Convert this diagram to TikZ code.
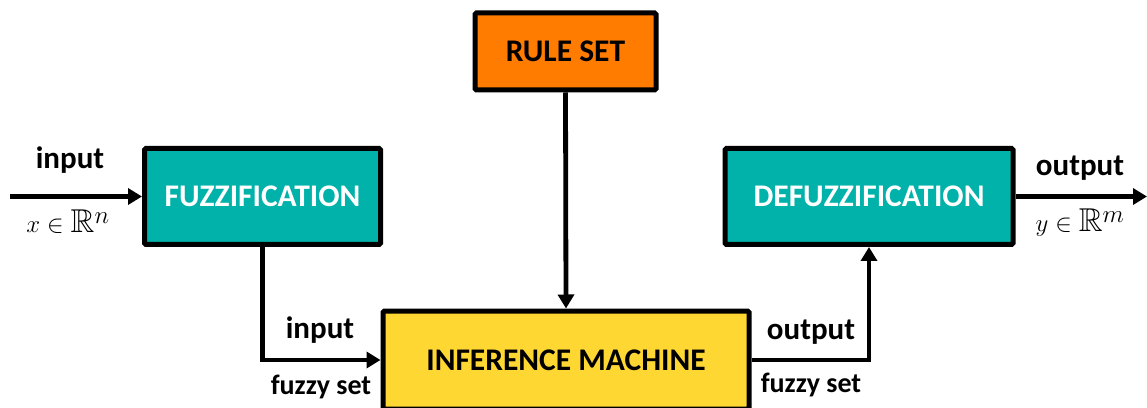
\documentclass[tikz,border=0pt]{standalone}
\usepackage{amssymb}
\usepackage{fontspec}
\setmainfont{Carlito}
\usetikzlibrary{arrows.meta}
\definecolor{tealbox}{HTML}{00B2A9}
\definecolor{orangebox}{HTML}{FF7C00}
\definecolor{yellowbox}{HTML}{FFD733}
\tikzset{
  blockbox/.style={draw=black, line width=5pt, rounded corners=1.5pt, inner sep=0pt, font=\fontsize{31.5}{33}\selectfont\bfseries},
  conn/.style={line width=4.8pt, -{Triangle[length=14pt,width=16pt]}},
  lbl/.style={inner sep=0pt, font=\fontsize{31}{33}\selectfont\bfseries},
  smalllbl/.style={inner sep=0pt, font=\fontsize{28}{30}\selectfont\bfseries},
  mathlbl/.style={inner sep=0pt, font=\fontsize{33}{35}\selectfont}
}
\begin{document}
\begin{tikzpicture}[x=1pt,y=1pt]
\useasboundingbox (0,0) rectangle (1147,407);
\clip (0,0) rectangle (1147,407);
\node[blockbox, fill=tealbox, text=white, minimum width=236pt, minimum height=96pt] (fuzz) at (262.5,210.5) {FUZZIFICATION};
\node[blockbox, fill=tealbox, text=white, minimum width=288pt, minimum height=96pt] (defuzz) at (869,210.5) {DEFUZZIFICATION};
\node[blockbox, fill=orangebox, text=black, minimum width=181pt, minimum height=77pt] (rule) at (565.5,355.5) {RULE SET};
\node[blockbox, fill=yellowbox, text=black, minimum width=366pt, minimum height=98pt] (inf) at (566,47) {INFERENCE MACHINE};
\coordinate (inA) at (10,210.5);
\coordinate (outB) at (1147,210.5);
\draw[conn] (inA) -- (fuzz.west);
\draw[conn] (defuzz.east) -- (outB);
\draw[conn] (rule.south) -- (inf.north);
\draw[conn] (fuzz.south) |- (inf.west);
\draw[conn] (inf.east) -| (defuzz.south);
\node[lbl] (l1) at (70,247) {input};
\node[mathlbl] (m1) at (68,185) {$x\in\mathbb{R}^n$};
\node[lbl] (l2) at (320,77) {input};
\node[smalllbl] (l3) at (321,20) {fuzzy set};
\node[lbl] (l4) at (811,75) {output};
\node[smalllbl] (l5) at (811,22) {fuzzy set};
\node[lbl] (l6) at (1080,239) {output};
\node[mathlbl] (m2) at (1080,184) {$y\in\mathbb{R}^m$};
\end{tikzpicture}
\end{document}
